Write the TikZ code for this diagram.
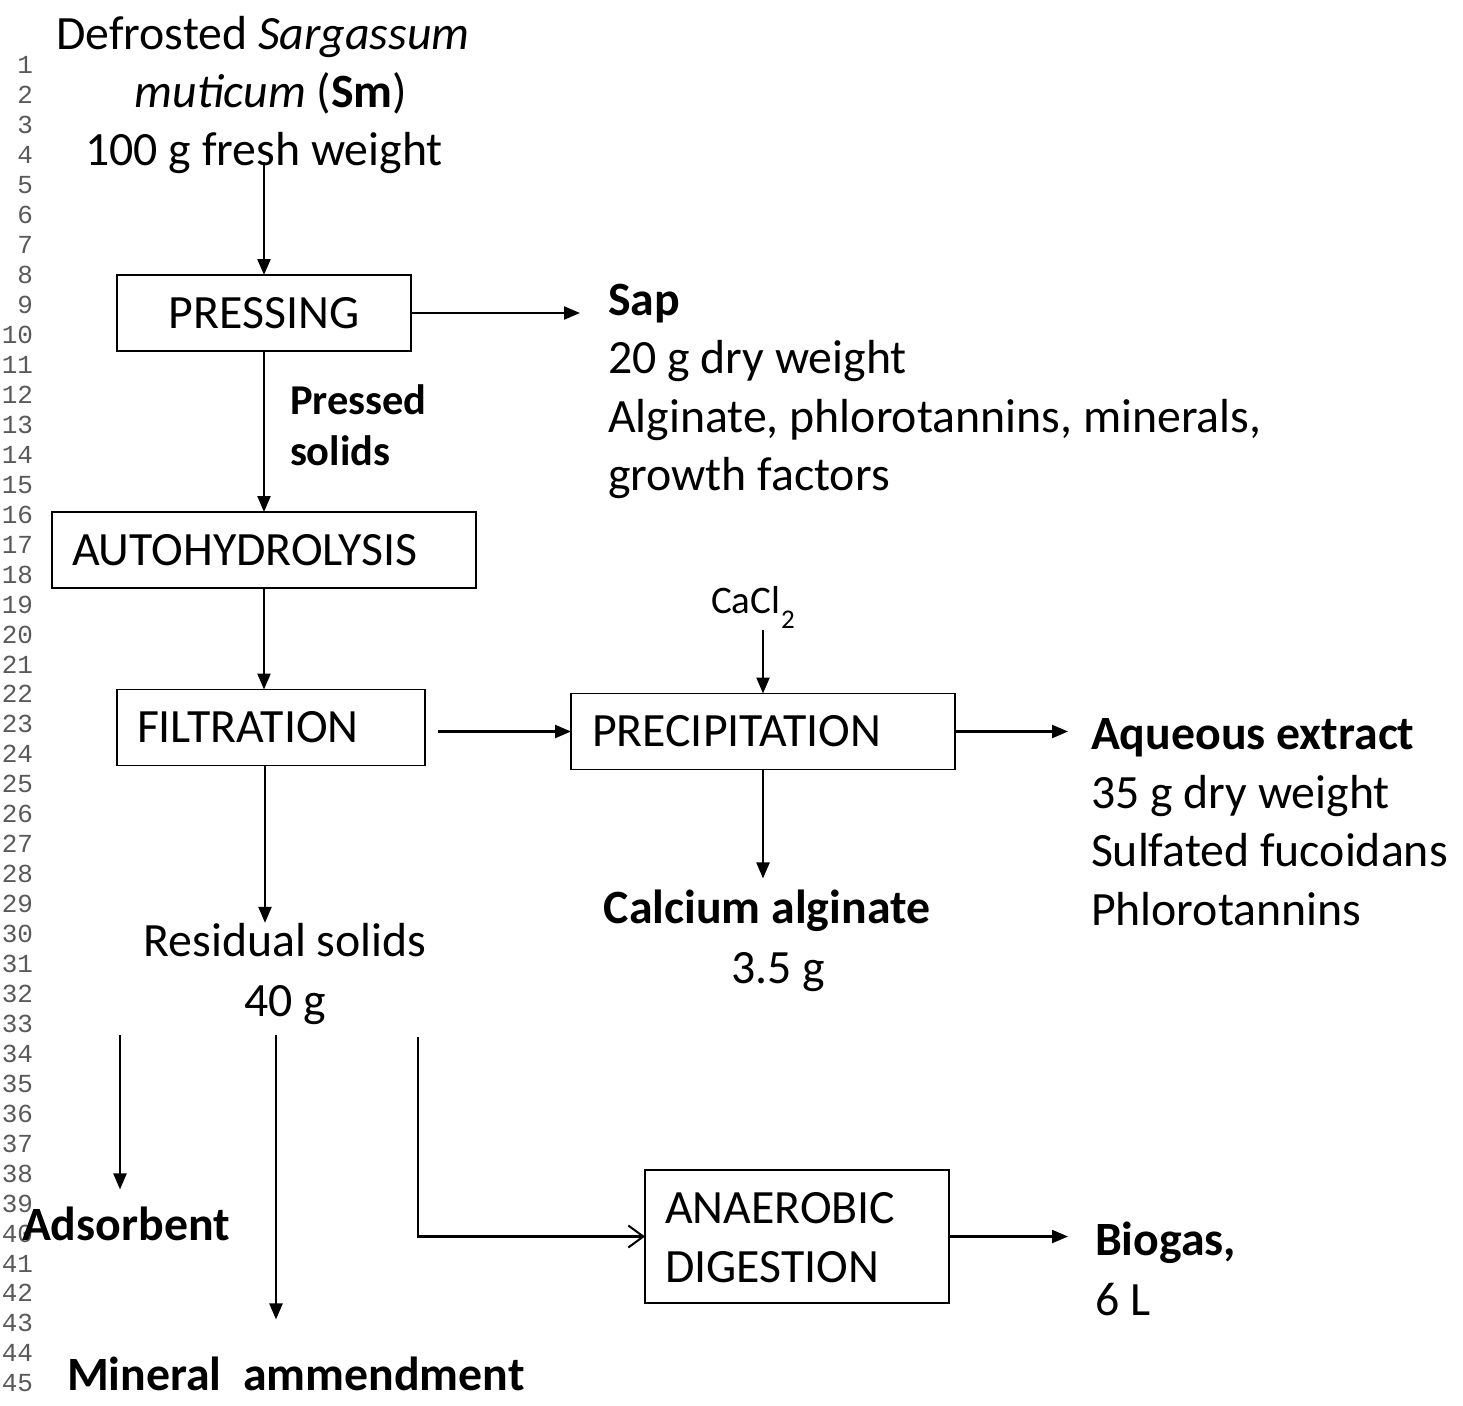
\documentclass[tikz,border=0pt]{standalone}
\usepackage{fontspec}
\setmainfont{Carlito}
\newfontfamily\numfont{Liberation Mono}
\usetikzlibrary{arrows.meta}
\tikzset{
  every node/.style={inner sep=0pt, outer sep=0pt},
  txt/.style={font=\fontsize{47.8}{56}\selectfont, anchor=base west},
  txtb/.style={font=\fontsize{47.8}{56}\selectfont\bfseries, anchor=base west},
  lbl/.style={font=\fontsize{42.5}{50}\selectfont\bfseries, anchor=base west},
  proc/.style={draw, line width=1.8pt, font=\fontsize{47.8}{59}\selectfont, align=left, inner xsep=20pt, inner ysep=0pt, minimum height=76pt},
  ln/.style={font=\numfont\fontsize{26}{26}\selectfont, text=black!65, anchor=base east},
  flow/.style={line width=2.3pt, -{Triangle[length=16pt,width=13pt]}},
  openflow/.style={line width=2.3pt, -{Straight Barb[length=15pt,width=22pt,line width=2pt]}}
}
\begin{document}
\begin{tikzpicture}[x=1pt,y=-1pt]
\useasboundingbox (0,0) rectangle (1463,1405);

% line numbers
\foreach \n in {1,...,45} {
  \node[ln] (ln\n) at (33,{74+(\n-1)*29.95}) {\n};
}

% source
\node[txt, anchor=base] (src1) at (263,49) {Defrosted \textit{Sargassum}};
\node[txt, anchor=base] (src2) at (271,107) {\textit{muticum} (\textbf{Sm})};
\node[txt, anchor=base] (src3) at (264,165) {100 g fresh weight};

% process boxes
\node[proc, minimum width=294pt, align=center] (press) at (264,313) {PRESSING};
\node[proc, text width=384pt] (auto) at (264,550) {AUTOHYDROLYSIS};
\node[proc, text width=268pt] (filt) at (271,727.5) {FILTRATION};
\node[proc, text width=342pt, inner xsep=21pt] (prec) at (763,731.5) {PRECIPITATION};
\node[proc, text width=264pt, minimum height=133pt] (anae) at (797,1236.5) {\rule{0pt}{33pt}ANAEROBIC\\DIGESTION};

% sap
\node[txtb] (sap1) at (608,315) {Sap};
\node[txt] (sap2) at (608,373) {20 g dry weight};
\node[txt] (sap3) at (608,432) {Alginate, phlorotannins, minerals,};
\node[txt] (sap4) at (608,490) {growth factors};

% pressed solids
\node[lbl] (ps1) at (290,414) {Pressed};
\node[lbl] (ps2) at (290,465) {solids};

% CaCl2
\node[anchor=base west, font=\fontsize{39}{46}\selectfont] (cacl) at (711,613) {CaCl\kern1pt\raisebox{-0.4em}{\fontsize{27}{27}\selectfont 2}};
\coordinate (caclin) at (763,630);

% aqueous extract
\node[txtb] (aq1) at (1091,749) {Aqueous extract};
\node[txt] (aq2) at (1091,808) {35 g dry weight};
\node[txt] (aq3) at (1091,866) {Sulfated fucoidans};
\node[txt] (aq4) at (1091,925) {Phlorotannins};

% calcium alginate
\node[txtb, anchor=base] (calc1) at (767,923) {Calcium alginate};
\node[txt, anchor=base] (calc2) at (778,983) {3.5 g};

% residual solids
\node[txt, anchor=base] (res1) at (285,956) {Residual solids};
\node[txt, anchor=base] (res2) at (285,1016) {40 g};
\coordinate (r1) at (120,1035);
\coordinate (r2) at (276,1035);
\coordinate (r3) at (418,1037);

% products
\node[txtb] (ads) at (22,1240) {Adsorbent};
\node[txtb] (mina) at (67,1390) {Mineral\ \ ammendment};
\node[txtb] (bio1) at (1095,1255) {Biogas,};
\node[txt] (bio2) at (1095,1315) {6 L};

% connectors
\draw[flow, shorten <=-3pt] (src3.base) -- (press.north);
\draw[flow, shorten >=28pt] (press.east) -- (press.east -| sap1.west);
\draw[flow] (press.south) -- (auto.north);
\draw[flow] (auto.south) -- (auto.south |- filt.north);
\draw[flow, shorten <=13pt] (filt.east |- prec.west) -- (prec.west);
\draw[flow] (caclin) -- (prec.north);
\draw[flow, shorten >=23pt] (prec.east) -- (prec.east -| aq1.west);
\draw[flow, shorten >=11pt] (prec.south) -- (prec.south |- calc1.north);
\draw[flow] ([xshift=-6pt]filt.south) -- ([xshift=-6pt]filt.south |- res1.north);
\draw[flow, shorten >=17pt] (r1) -- (r1 |- ads.north);
\draw[flow, shorten >=37pt] (r2) -- (r2 |- mina.north);
\draw[openflow] (r3) |- (anae.west);
\draw[flow, shorten >=27pt] (anae.east) -- (anae.east -| bio1.west);
\end{tikzpicture}
\end{document}
